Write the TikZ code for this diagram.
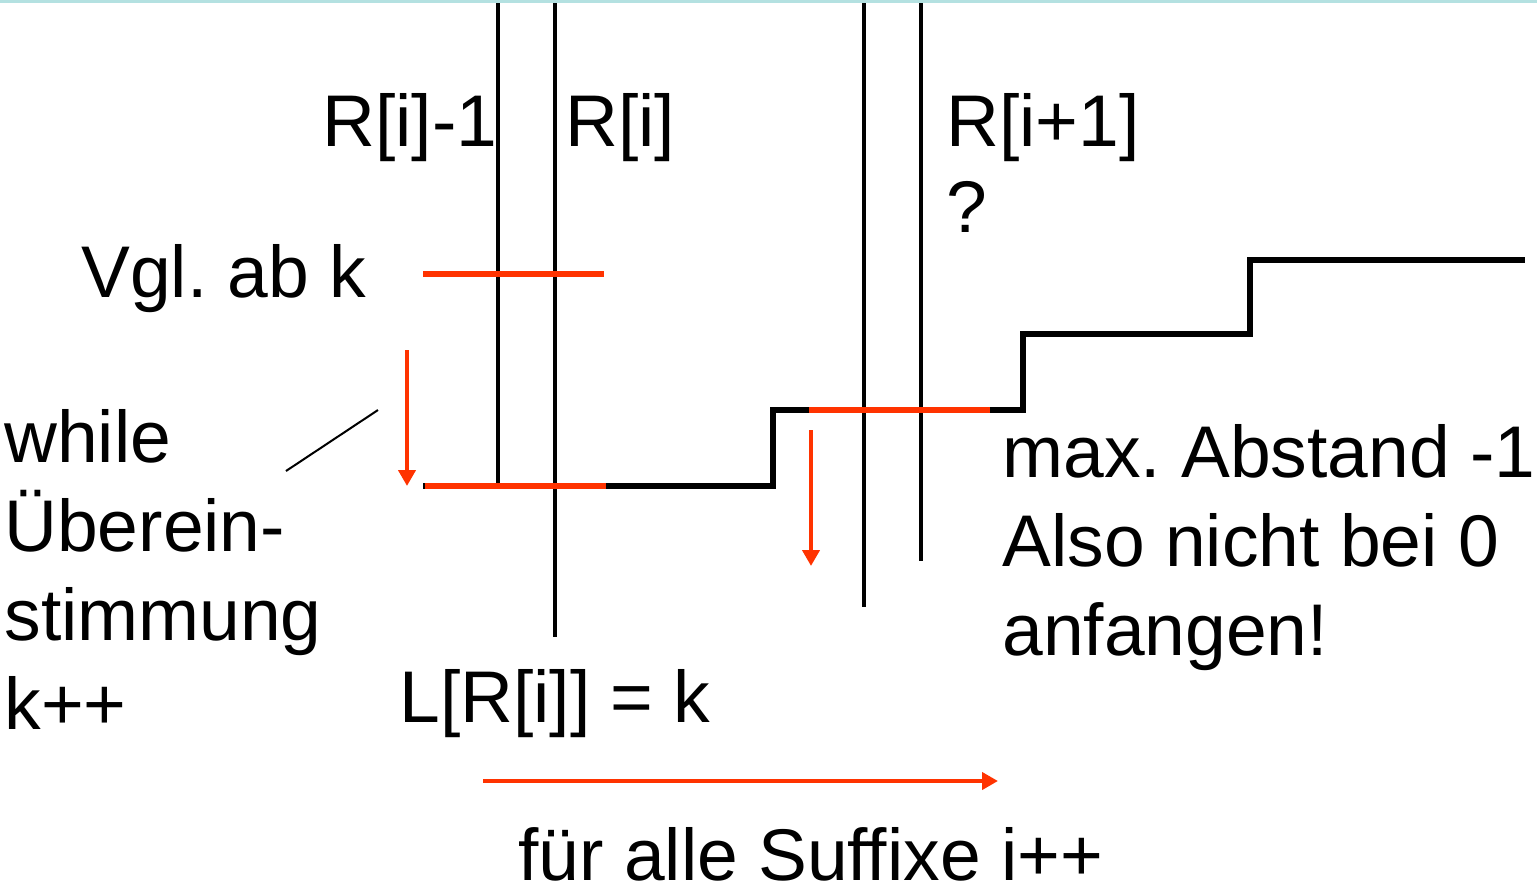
\documentclass[tikz,border=0pt]{standalone}
\usepackage{fontspec}
\setmainfont{Liberation Sans}
\usetikzlibrary{arrows.meta}
\definecolor{redline}{RGB}{255,51,0}
\definecolor{topcyan}{RGB}{180,225,225}
\tikzset{
  lbl/.style={anchor=base west, inner sep=0pt, font=\fontsize{36.6}{44.5}\selectfont},
  vline/.style={line width=1.7pt, black},
  stairs/.style={line width=2.6pt, black, line join=miter},
  redbar/.style={line width=2.8pt, redline},
  redarrow/.style={line width=2pt, redline, -{Triangle[length=8pt,width=8.5pt]}},
}
\frenchspacing
\begin{document}
\begin{tikzpicture}[x=0.5pt,y=-0.5pt]
\useasboundingbox (0,0) rectangle (1537,891);
\fill[white] (0,0) rectangle (1537,891);
\draw[topcyan, line width=1.5pt] (0,1) -- (1537,1);
% coordinates
\coordinate (v1t) at (498,3); \coordinate (v1b) at (498,486);
\coordinate (v2t) at (555,3); \coordinate (v2b) at (555,637);
\coordinate (v3t) at (864,3); \coordinate (v3b) at (864,607);
\coordinate (v4t) at (921,3); \coordinate (v4b) at (921,561);
% staircase
\coordinate (s0) at (423,486); \coordinate (s1) at (773,486);
\coordinate (s2) at (773,410); \coordinate (s3) at (1023,410);
\coordinate (s4) at (1023,334); \coordinate (s5) at (1250,334);
\coordinate (s6) at (1250,260); \coordinate (s7) at (1525,260);
\draw[stairs] (s0) -- (s1) -- (s2) -- (s3) -- (s4) -- (s5) -- (s6) -- (s7);
% vertical lines
\draw[vline] (v1t) -- (v1b);
\draw[vline] (v2t) -- (v2b);
\draw[vline] (v3t) -- (v3b);
\draw[vline] (v4t) -- (v4b);
% red bars
\coordinate (r1a) at (423,274); \coordinate (r1b) at (604,274);
\coordinate (r2a) at (425,486); \coordinate (r2b) at (606,486);
\coordinate (r3a) at (809,410); \coordinate (r3b) at (990,410);
\draw[redbar] (r1a) -- (r1b);
\draw[redbar] (r2a) -- (r2b);
\draw[redbar] (r3a) -- (r3b);
% red arrows
\coordinate (a1a) at (407,350); \coordinate (a1b) at (407,486);
\coordinate (a2a) at (811,430); \coordinate (a2b) at (811,566);
\coordinate (a3a) at (483,781); \coordinate (a3b) at (998,781);
\draw[redarrow] (a1a) -- (a1b);
\draw[redarrow] (a2a) -- (a2b);
\draw[redarrow] (a3a) -- (a3b);
% slanted line
\coordinate (d1) at (286,471); \coordinate (d2) at (378,410);
\draw[line width=1pt] (d1) -- (d2);
% labels
\node[lbl] (t1) at (322,146) {R[i]-1};
\node[lbl] (t2) at (565,146) {R[i]};
\node[lbl] (t3) at (946,146) {R[i+1]};
\node[lbl] (t4) at (946,232) {?};
\node[lbl] (t5) at (81,297) {Vgl. ab k};
\node[lbl] (t6) at (4,462) {while};
\node[lbl] (t7) at (4,551) {Überein-};
\node[lbl] (t8) at (4,640) {stimmung};
\node[lbl] (t9) at (4,729) {k++};
\node[lbl] (t10) at (399,722) {L[R[i]] = k};
\node[lbl] (t11) at (1002,477) {max. Abstand -1};
\node[lbl] (t12) at (1002,566) {Also nicht bei 0};
\node[lbl] (t13) at (1002,655) {anfangen!};
\node[lbl] (t14) at (518,880) {für alle Suffixe i++};
\end{tikzpicture}
\end{document}
